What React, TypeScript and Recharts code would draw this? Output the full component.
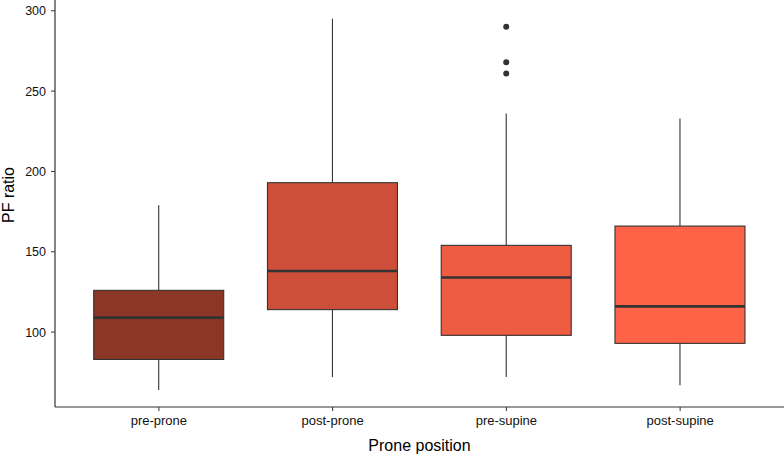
import { Bar, BarChart, Cell, XAxis, YAxis } from "recharts";

const categories = ["pre-prone", "post-prone", "pre-supine", "post-supine"];
const lowerWhisker = [64, 72, 72, 67];
const lowerQuartile = [83, 114, 98, 93];
const medians = [109, 138, 134, 116];
const upperQuartile = [126, 193, 154, 166];
const upperWhisker = [179, 295, 236, 233];
const outliers: number[][] = [[], [], [290, 268, 261], []];
const yTicks = [100, 150, 200, 250, 300];

const boxColors = ["#8B3626", "#CD4F39", "#EE5C42", "#FF6347"];
const ink = "#333333";
const font = "'Liberation Sans', Arial, sans-serif";

const chartData = categories.map((name, i) => ({
  name,
  box: [lowerQuartile[i], upperQuartile[i]],
  lo: lowerWhisker[i],
  q1: lowerQuartile[i],
  med: medians[i],
  q3: upperQuartile[i],
  hi: upperWhisker[i],
  out: outliers[i],
}));

// the bar spans q1..q3, so its pixel geometry gives the y mapping for the rest
const BoxShape = (props: any) => {
  const { x, y, width, height, payload, fill } = props;
  const perUnit = height / (payload.q3 - payload.q1);
  const py = (v: number) => y + (payload.q3 - v) * perUnit;
  const cx = x + width / 2;
  return (
    <g>
      <line x1={cx} x2={cx} y1={py(payload.hi)} y2={py(payload.q3)} stroke={ink} strokeWidth={1.1} />
      <line x1={cx} x2={cx} y1={py(payload.q1)} y2={py(payload.lo)} stroke={ink} strokeWidth={1.1} />
      <rect x={x} y={y} width={width} height={height} fill={fill} stroke={ink} strokeWidth={1.1} />
      <line x1={x} x2={x + width} y1={py(payload.med)} y2={py(payload.med)} stroke={ink} strokeWidth={2.6} />
      {payload.out.map((v: number, k: number) => (
        <circle key={k} cx={cx} cy={py(v)} r={3} fill={ink} />
      ))}
    </g>
  );
};

export default function App() {
  return (
    <div style={{ position: "absolute", left: 0, top: 0, background: "#fff" }}>
      <BarChart
        width={784}
        height={457}
        data={chartData}
        margin={{ top: 0, right: 0, bottom: 0, left: 0 }}
        barCategoryGap="12.5%"
      >
        <XAxis
          dataKey="name"
          height={50}
          padding={{ left: 17, right: 17 }}
          axisLine={{ stroke: ink, strokeWidth: 1.2 }}
          tickLine={{ stroke: ink }}
          tickSize={4}
          tickMargin={5}
          tick={{ fill: "#111", fontSize: 13, fontFamily: font }}
          label={({ viewBox }: any) => (
            <text
              x={viewBox.x + viewBox.width / 2}
              y={451}
              textAnchor="middle"
              fontSize={16}
              fontFamily={font}
              fill="#000"
            >
              Prone position
            </text>
          )}
        />
        <YAxis
          width={55}
          domain={[53.4, 306.7]}
          ticks={yTicks}
          allowDataOverflow
          axisLine={{ stroke: ink, strokeWidth: 1.2 }}
          tickLine={{ stroke: ink }}
          tickSize={4}
          tickMargin={5}
          tick={{ fill: "#111", fontSize: 12.5, fontFamily: font }}
          label={() => (
            <text
              x={14}
              y={195}
              transform="rotate(-90, 14, 195)"
              textAnchor="middle"
              fontSize={16}
              fontFamily={font}
              fill="#000"
            >
              PF ratio
            </text>
          )}
        />
        <Bar dataKey="box" shape={BoxShape} isAnimationActive={false}>
          {chartData.map((d, i) => (
            <Cell key={d.name} fill={boxColors[i]} />
          ))}
        </Bar>
      </BarChart>
    </div>
  );
}
